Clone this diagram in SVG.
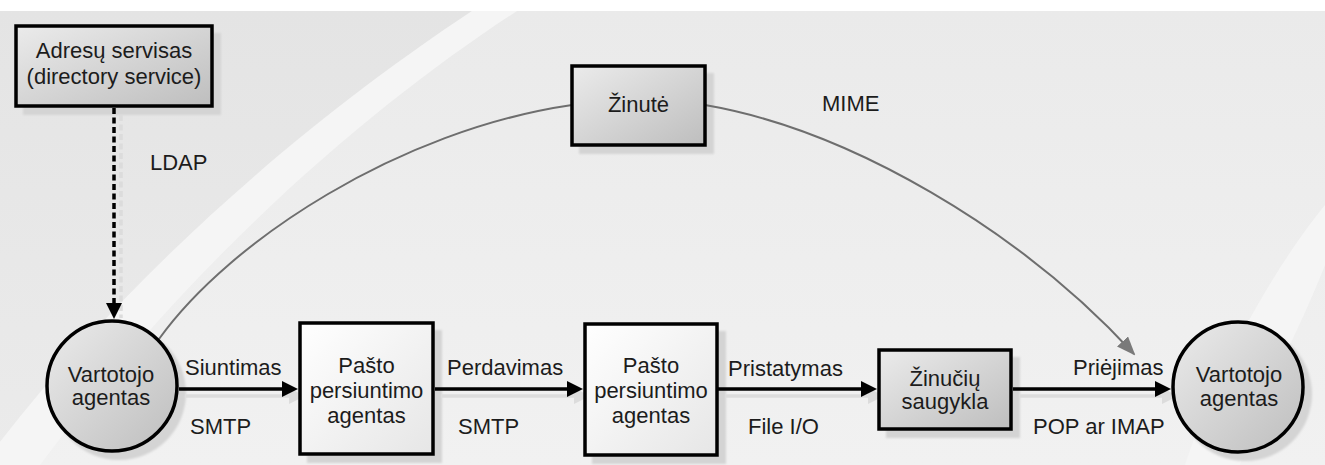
<svg xmlns="http://www.w3.org/2000/svg" width="1325" height="465" viewBox="0 0 1325 465">
  <style>
    text { font-family: "Liberation Sans", Arial, sans-serif; font-size: 22px; fill: #1c1c1c; }
    .mid { text-anchor: middle; }
    .node { stroke: #000; stroke-width: 3.5; }
    .shadow { fill: #d4d4d4; filter: url(#soft); }
    .flow { fill: none; stroke: #000; stroke-width: 3.5; }
    .flow-shadow { fill: none; stroke: #dcdcdc; stroke-width: 3.5; }
    .curve { fill: none; stroke: #6e6e6e; stroke-width: 2; }
  </style>
  <defs>
    <linearGradient id="bg" x1="0" y1="0" x2="0" y2="1">
      <stop offset="0" stop-color="#eaeaea"/>
      <stop offset="0.4" stop-color="#ededed"/>
      <stop offset="1" stop-color="#f1f1f1"/>
    </linearGradient>
    <linearGradient id="grayFill" x1="0" y1="0" x2="1" y2="1">
      <stop offset="0" stop-color="#ebebeb"/>
      <stop offset="1" stop-color="#bebebe"/>
    </linearGradient>
    <linearGradient id="lightFill" x1="0" y1="0" x2="1" y2="1">
      <stop offset="0" stop-color="#ffffff"/>
      <stop offset="1" stop-color="#e6e6e6"/>
    </linearGradient>
    <filter id="soft" x="-10%" y="-10%" width="120%" height="120%">
      <feGaussianBlur stdDeviation="1.3"/>
    </filter>
    <marker id="arrowBlack" viewBox="0 0 16 16" refX="8" refY="8" markerWidth="16" markerHeight="16" markerUnits="userSpaceOnUse" orient="auto">
      <path d="M0,0 L16,8 L0,16 Z" fill="#000"/>
    </marker>
    <marker id="arrowShade" viewBox="0 0 16 16" refX="8" refY="8" markerWidth="16" markerHeight="16" markerUnits="userSpaceOnUse" orient="auto">
      <path d="M0,0 L16,8 L0,16 Z" fill="#dcdcdc"/>
    </marker>
    <marker id="arrowGray" viewBox="0 0 19 15" refX="17" refY="7.5" markerWidth="19" markerHeight="15" markerUnits="userSpaceOnUse" orient="auto">
      <path d="M0,0 L19,7.5 L0,15 Z" fill="#7a7a7a"/>
    </marker>
  </defs>

  <!-- backdrop -->
  <rect x="0" y="0" width="1325" height="465" fill="#ffffff"/>
  <rect x="0" y="11" width="1325" height="454" fill="url(#bg)"/>
  <path d="M0,11 H472 C330,105 150,250 0,442 Z" fill="#000" fill-opacity="0.025"/>
  <path d="M472,11 H517 C380,100 200,250 40,465 H0 V442 C150,250 330,105 472,11 Z" fill="#f5f5f5"/>
  <path d="M1325,205 C1280,260 1220,360 1185,465 H1240 C1260,400 1300,330 1325,265 Z" fill="#f5f5f5"/>

  <!-- shadows -->
  <g id="shadows">
    <rect class="shadow" x="23" y="33" width="198" height="82"/>
    <rect class="shadow" x="579" y="73" width="135" height="81"/>
    <rect class="shadow" x="307" y="330" width="135" height="133"/>
    <rect class="shadow" x="592" y="331" width="134" height="133"/>
    <rect class="shadow" x="886" y="357" width="134" height="81"/>
    <circle class="shadow" cx="119" cy="393" r="67"/>
    <circle class="shadow" cx="1245" cy="394" r="67"/>
    <path class="flow-shadow" d="M121,115 V318" stroke-dasharray="6 3.5"/>
    <path class="flow-shadow" d="M186,396 H297" marker-end="url(#arrowShade)"/>
    <path class="flow-shadow" d="M442,396 H582" marker-end="url(#arrowShade)"/>
    <path class="flow-shadow" d="M725,396 H876" marker-end="url(#arrowShade)"/>
    <path class="flow-shadow" d="M1020,396 H1170" marker-end="url(#arrowShade)"/>
  </g>

  <!-- connectors -->
  <g id="connectors">
    <path class="flow" d="M114,108 V311" stroke-dasharray="6 3.5" marker-end="url(#arrowBlack)"/>
    <path class="flow" d="M179,389 H290" marker-end="url(#arrowBlack)"/>
    <path class="flow" d="M435,389 H575" marker-end="url(#arrowBlack)"/>
    <path class="flow" d="M718,389 H869" marker-end="url(#arrowBlack)"/>
    <path class="flow" d="M1013,389 H1163" marker-end="url(#arrowBlack)"/>
    <path class="curve" d="M159,339 C230,240 400,130 572,105"/>
    <path class="curve" d="M705,105 C850,130 1020,230 1134,354" marker-end="url(#arrowGray)"/>
  </g>

  <!-- connector labels -->
  <g id="labels">
    <text x="150" y="170">LDAP</text>
    <text x="822" y="111">MIME</text>
    <text x="185" y="375">Siuntimas</text>
    <text x="190" y="434">SMTP</text>
    <text x="447" y="375">Perdavimas</text>
    <text x="458" y="434">SMTP</text>
    <text x="728" y="376">Pristatymas</text>
    <text x="748" y="434">File I/O</text>
    <text x="1073" y="375">Priėjimas</text>
    <text x="1033" y="434">POP ar IMAP</text>
  </g>

  <!-- nodes -->
  <g id="directory-service">
    <rect class="node" x="16" y="26" width="196" height="80" fill="url(#grayFill)"/>
    <text class="mid" x="114" y="58">Adresų servisas</text>
    <text class="mid" x="114" y="84">(directory service)</text>
  </g>
  <g id="message">
    <rect class="node" x="572" y="66" width="133" height="79" fill="url(#grayFill)"/>
    <text class="mid" x="638.5" y="112">Žinutė</text>
  </g>
  <g id="user-agent-left">
    <circle class="node" cx="112" cy="386" r="65" fill="url(#grayFill)"/>
    <text class="mid" x="111" y="382">Vartotojo</text>
    <text class="mid" x="111" y="405">agentas</text>
  </g>
  <g id="transfer-agent-1">
    <rect class="node" x="300" y="323" width="133" height="131" fill="url(#lightFill)"/>
    <text class="mid" x="366.5" y="373">Pašto</text>
    <text class="mid" x="366.5" y="398">persiuntimo</text>
    <text class="mid" x="366.5" y="423">agentas</text>
  </g>
  <g id="transfer-agent-2">
    <rect class="node" x="585" y="324" width="132" height="131" fill="url(#lightFill)"/>
    <text class="mid" x="651" y="373">Pašto</text>
    <text class="mid" x="651" y="398">persiuntimo</text>
    <text class="mid" x="651" y="423">agentas</text>
  </g>
  <g id="message-store">
    <rect class="node" x="879" y="350" width="132" height="79" fill="url(#grayFill)"/>
    <text class="mid" x="945" y="386">Žinučių</text>
    <text class="mid" x="945" y="409">saugykla</text>
  </g>
  <g id="user-agent-right">
    <circle class="node" cx="1238" cy="387" r="65" fill="url(#grayFill)"/>
    <text class="mid" x="1239" y="382">Vartotojo</text>
    <text class="mid" x="1239" y="406">agentas</text>
  </g>
</svg>
